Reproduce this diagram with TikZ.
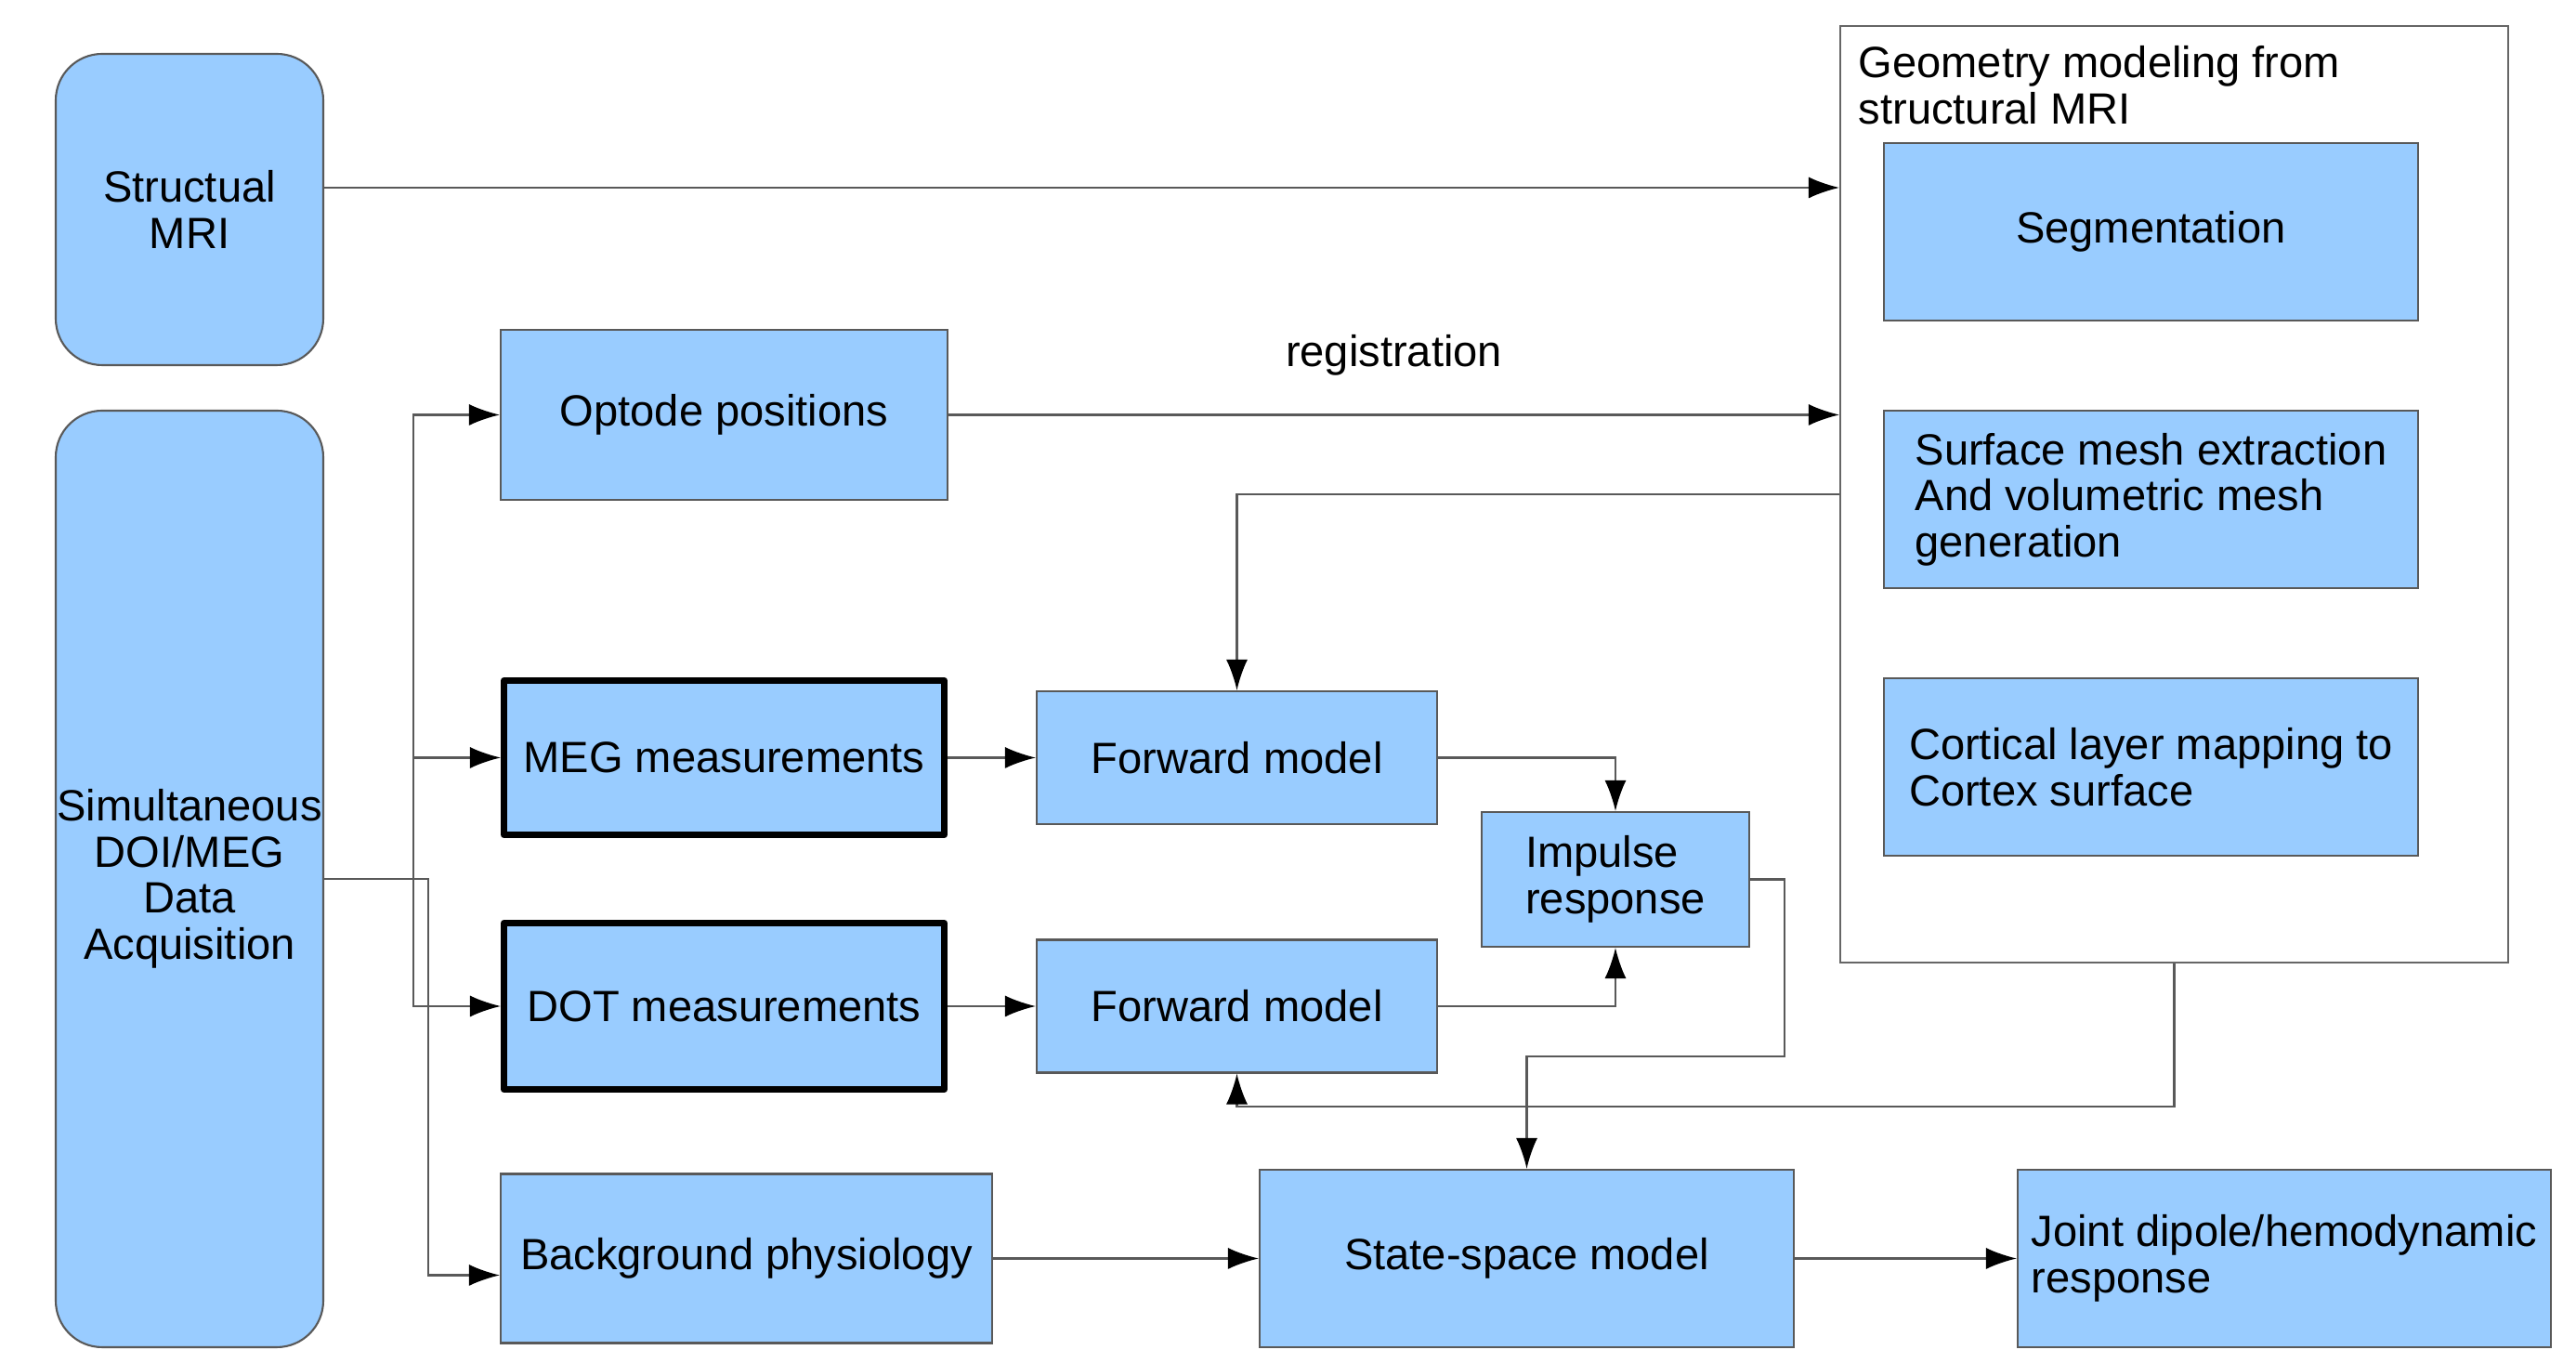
\documentclass[tikz,border=0pt]{standalone}
\usepackage{fontspec}
\setmainfont{Liberation Sans}
\usetikzlibrary{arrows.meta}
\definecolor{boxblue}{HTML}{99CCFF}
\tikzset{
    box/.style={draw=black!65, fill=boxblue, line width=0.6pt, inner sep=0pt, align=center},
    roundbox/.style={box, rounded corners=5mm},
    measbox/.style={box, draw=black, line width=2pt, line join=round},
    frame/.style={draw=black!60, fill=white, line width=0.6pt, inner sep=0pt},
    arr/.style={draw=black!65, line width=0.6pt, -{Latex[length=3.3mm, width=2.3mm, color=black]}},
}

\begin{document}
\begin{tikzpicture}[font=\fontsize{13.4}{14.1}\selectfont]
            \useasboundingbox (0,0) rectangle (27.73,14.53);
            \node[roundbox, minimum width=2.88cm, minimum height=3.35cm] (mri) at (2.04,12.275) {Structual\\MRI};
            \node[roundbox, minimum width=2.88cm, minimum height=10.08cm] (daq) at (2.04,5.07) {Simultaneous\\DOI/MEG\\Data\\Acquisition};
            \node[frame, minimum width=7.19cm, minimum height=10.08cm] (geo) at (23.405,9.21) {};
            \node[anchor=north west, inner sep=0pt, align=left] (geotitle) at (20.00,14.04) {Geometry modeling from\\structural MRI};
            \node[box, minimum width=5.75cm, minimum height=1.91cm] (seg) at (23.155,12.035) {Segmentation};
            \node[box, align=left, minimum width=5.75cm, minimum height=1.91cm] (mesh) at (23.155,9.155) {Surface mesh extraction\\And volumetric mesh\\generation};
            \node[box, align=left, minimum width=5.75cm, minimum height=1.91cm] (cortex) at (23.155,6.275) {Cortical layer mapping to\\Cortex surface};
            \node[box, minimum width=4.81cm, minimum height=1.83cm] (optode) at (7.795,10.065) {Optode positions};
            \node[measbox, minimum width=4.74cm, minimum height=1.66cm] (meg) at (7.795,6.375) {MEG measurements};
            \node[measbox, minimum width=4.74cm, minimum height=1.79cm] (dot) at (7.795,3.70) {DOT measurements};
            \node[box, minimum width=5.29cm, minimum height=1.82cm] (bg) at (8.035,0.985) {Background physiology};
            \node[box, minimum width=4.31cm, minimum height=1.43cm] (fwdmeg) at (13.315,6.375) {Forward model};
            \node[box, minimum width=4.31cm, minimum height=1.43cm] (fwddot) at (13.315,3.70) {Forward model};
            \node[box, align=left, minimum width=2.88cm, minimum height=1.45cm] (impulse) at (17.39,5.065) {Impulse\\response};
            \node[box, minimum width=5.75cm, minimum height=1.91cm] (ssm) at (16.435,0.985) {State-space model};
            \node[box, align=left, minimum width=5.74cm, minimum height=1.91cm] (joint) at (24.59,0.985) {Joint dipole/hemodynamic\\response};

            \coordinate (mriout) at ([yshift=2.35mm]mri.east);
            \coordinate (split) at ([xshift=9.6mm]daq.east);
            \coordinate (bgsplit) at ([xshift=11.2mm]daq.east);
            \coordinate (irturn) at (19.21,3.16);
            \coordinate (geoturn) at ([yshift=-15.4mm]geo.south);

            \draw[arr] (mriout) -- (mriout -| geo.west);
            \draw[arr] (optode.east) -- (optode.east -| geo.west) node[midway, yshift=6.4mm] (reglabel) {registration};
            \draw[arr] (geo.west) -| (fwdmeg.north);
            \draw[arr] (daq.east) -- (split) |- (optode.west);
            \draw[arr] (split) |- (meg.west);
            \draw[arr] (split) |- (dot.west);
            \draw[arr] (daq.east) -- (bgsplit) |- ([yshift=-1.8mm]bg.west);
            \draw[arr] (meg.east) -- (fwdmeg.west);
            \draw[arr] (dot.east) -- (fwddot.west);
            \draw[arr] (fwdmeg.east) -| (impulse.north);
            \draw[arr] (fwddot.east) -| (impulse.south);
            \draw[arr] (impulse.east) -| (irturn) -| (ssm.north);
            \draw[arr] (geo.south) -- (geoturn) -| (fwddot.south);
            \draw[arr] (bg.east) -- (ssm.west);
            \draw[arr] (ssm.east) -- (joint.west);
        \end{tikzpicture}
\end{document}
